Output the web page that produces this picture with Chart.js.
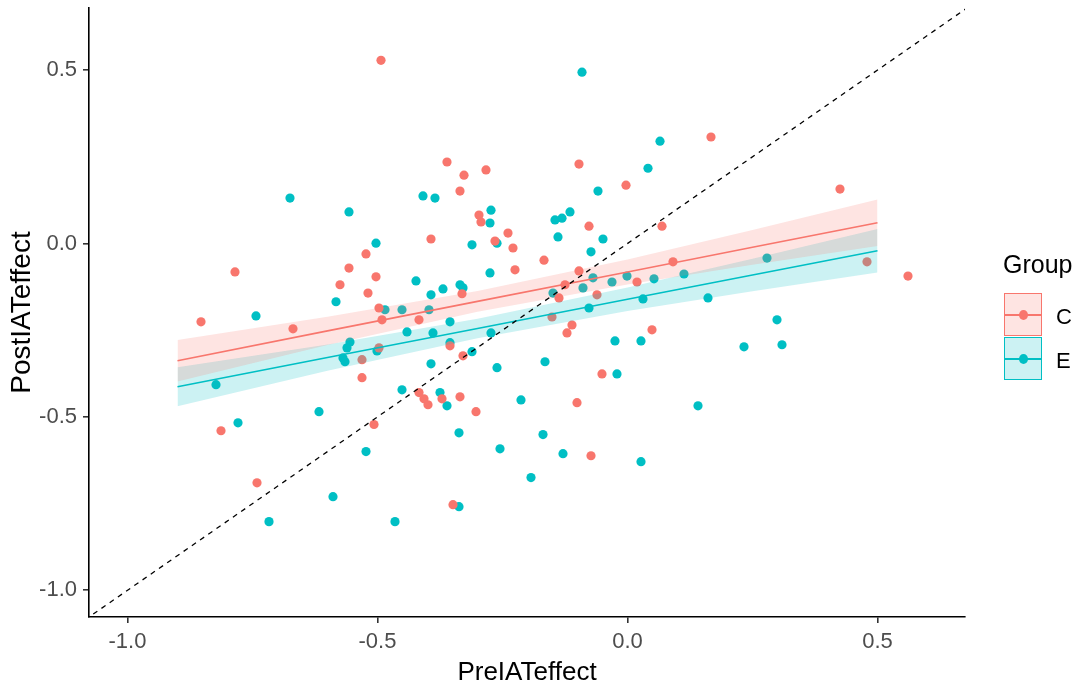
<!DOCTYPE html>
<html>
<head>
<meta charset="utf-8">
<title>PostIATeffect vs PreIATeffect</title>
<script src="https://cdn.jsdelivr.net/npm/chart.js@4.4.1/dist/chart.umd.min.js"></script>
<style>
body{margin:0;background:#fff;}
#wrap{position:relative;width:1074px;height:687px;font-family:"Liberation Sans",Arial,sans-serif;}
#chart{position:absolute;left:0;top:0;}
.lg{position:absolute;white-space:nowrap;line-height:1;}
.key{position:absolute;box-sizing:border-box;}
.key .ln{position:absolute;left:0;right:0;height:2px;}
.key .dot{position:absolute;width:9px;height:10px;border-radius:50%;}
</style>
</head>
<body>
<div id="wrap">
<canvas id="chart" width="1074" height="687"></canvas>
<div id="legend"></div>
</div>
<script>
// group C points
var cX = [-0.493,-0.361,-0.327,-0.283,-0.335,-0.097,-0.003,0.167,0.425,-0.297,
	-0.293,-0.239,-0.393,-0.265,-0.523,-0.557,-0.575,-0.503,-0.519,-0.331,
	-0.497,-0.491,-0.417,-0.355,-0.497,-0.329,-0.531,-0.531,-0.417,-0.407,
	-0.399,-0.371,-0.335,-0.303,-0.507,-0.349,-0.077,0.069,-0.229,-0.167,
	0.091,-0.225,-0.097,0.019,-0.125,-0.061,-0.137,-0.151,-0.111,-0.121,
	0.049,-0.051,-0.101,-0.073,-0.785,-0.853,-0.669,-0.813,-0.741,0.479,0.561];
var cY = [0.528,0.235,0.197,0.212,0.151,0.229,0.168,0.307,0.157,0.082,
	0.062,0.030,0.013,0.007,-0.030,-0.071,-0.119,-0.096,-0.143,-0.145,
	-0.186,-0.220,-0.220,-0.295,-0.301,-0.324,-0.335,-0.387,-0.430,-0.448,
	-0.465,-0.448,-0.442,-0.485,-0.522,-0.753,0.050,0.050,-0.013,-0.048,
	-0.053,-0.076,-0.079,-0.111,-0.119,-0.148,-0.157,-0.212,-0.235,-0.258,
	-0.249,-0.376,-0.459,-0.612,-0.082,-0.226,-0.246,-0.540,-0.690,-0.053,-0.094];

// group E points
var eX = [-0.091,0.065,0.041,-0.059,-0.675,-0.409,-0.385,-0.557,-0.273,-0.275,
	-0.503,-0.311,-0.261,-0.275,-0.423,-0.369,-0.335,-0.329,-0.393,-0.583,
	-0.485,-0.451,-0.397,-0.355,-0.441,-0.389,-0.555,-0.561,-0.569,-0.565,
	-0.501,-0.355,-0.273,-0.311,-0.393,-0.261,-0.451,-0.375,-0.361,-0.337,
	-0.255,-0.145,-0.131,-0.115,-0.139,-0.049,-0.073,-0.069,-0.031,-0.001,
	0.053,-0.089,-0.149,0.031,-0.077,-0.025,0.027,-0.165,-0.021,-0.213,
	-0.169,-0.129,0.027,-0.193,-0.743,-0.823,-0.617,-0.779,-0.717,-0.589,
	-0.523,-0.465,-0.337,0.113,0.279,0.161,0.299,0.233,0.309,0.141];
var eY = [0.494,0.295,0.217,0.151,0.131,0.137,0.131,0.091,0.096,0.059,
	0.001,-0.004,0.001,-0.085,-0.108,-0.131,-0.119,-0.128,-0.148,-0.168,
	-0.191,-0.191,-0.191,-0.226,-0.255,-0.258,-0.284,-0.301,-0.330,-0.341,
	-0.310,-0.286,-0.258,-0.312,-0.347,-0.358,-0.422,-0.430,-0.468,-0.546,
	-0.592,0.068,0.073,0.091,0.019,0.013,-0.024,-0.099,-0.111,-0.094,
	-0.102,-0.128,-0.143,-0.160,-0.186,-0.281,-0.281,-0.341,-0.376,-0.451,
	-0.551,-0.606,-0.629,-0.675,-0.209,-0.407,-0.485,-0.517,-0.802,-0.730,
	-0.600,-0.802,-0.759,-0.088,-0.042,-0.157,-0.220,-0.298,-0.292,-0.468];

// lm fits with confidence band
var fitX = [-0.9,-0.6,-0.3,0,0.25,0.5];
var fitC = [-0.338,-0.252,-0.167,-0.082,-0.011,0.060];
var loC  = [-0.398,-0.293,-0.197,-0.118,-0.061,-0.007];
var hiC  = [-0.278,-0.211,-0.137,-0.046,0.039,0.127];
var fitE = [-0.413,-0.329,-0.245,-0.161,-0.091,-0.021];
var loE  = [-0.469,-0.367,-0.273,-0.195,-0.138,-0.084];
var hiE  = [-0.357,-0.291,-0.217,-0.127,-0.044,0.042];

var xTicks = [-1.0,-0.5,0.0,0.5];
var yTicks = [-1.0,-0.5,0.0,0.5];
var xMin = -1.077, xMax = 0.675, yMin = -1.077, yMax = 0.679;
// y = x reference line
var diag = [-1.2, 0.8];

var groups = ['C','E'];
var colC = '#F8766D', colE = '#00BFC4';
var fillC = 'rgba(248,118,109,0.2)', fillE = 'rgba(0,191,196,0.2)';
var fam = '"Liberation Sans", Arial, sans-serif';

function pts(xs, ys) {
	var out = [];
	for (var i = 0; i < xs.length; i++) out.push({x: xs[i], y: ys[i]});
	return out;
}

function band(ys, fill, target) {
	return {type: 'line', data: pts(fitX, ys), borderWidth: 0, pointRadius: 0,
		backgroundColor: fill, fill: target, tension: 0, order: 2};
}

var chart = new Chart(document.getElementById('chart'), {
	type: 'scatter',
	data: {
		datasets: [
			{type: 'line', data: pts(diag, diag), borderColor: '#000', borderWidth: 1.3,
				borderDash: [5, 5], pointRadius: 0, fill: false, order: 0},
			{type: 'line', data: pts(fitX, fitC), borderColor: colC, borderWidth: 1.6,
				pointRadius: 0, fill: false, order: 1},
			{type: 'line', data: pts(fitX, fitE), borderColor: colE, borderWidth: 1.6,
				pointRadius: 0, fill: false, order: 1},
			band(hiC, fillC, '+1'),
			band(loC, fillC, false),
			band(hiE, fillE, '+1'),
			band(loE, fillE, false),
			{data: pts(cX, cY), backgroundColor: colC, pointRadius: 4.6, borderWidth: 0, order: 3},
			{data: pts(eX, eY), backgroundColor: colE, pointRadius: 4.6, borderWidth: 0, order: 3}
		]
	},
	options: {
		responsive: false,
		devicePixelRatio: 1,
		animation: false,
		layout: {padding: {left: 0, right: 109, top: 8, bottom: 0}},
		plugins: {legend: {display: false}, tooltip: {enabled: false}},
		scales: {
			x: {
				type: 'linear', min: xMin, max: xMax,
				afterBuildTicks: function(s) { s.ticks = xTicks.map(function(v) { return {value: v}; }); },
				afterFit: function(s) { s.height = 70; s.paddingLeft = 0; s.paddingRight = 0; },
				border: {display: true, color: '#000', width: 1.6},
				grid: {drawOnChartArea: false, drawTicks: true, tickLength: 6, color: '#333', lineWidth: 1.6},
				ticks: {color: '#4D4D4D', font: {family: fam, size: 22}, padding: 6, maxRotation: 0, autoSkip: false,
					callback: function(v) { return v.toFixed(1); }},
				title: {display: true, text: 'PreIATeffect', color: '#000',
					font: {family: fam, size: 26, lineHeight: 1}, padding: {top: 0, bottom: 1}}
			},
			y: {
				type: 'linear', min: yMin, max: yMax,
				afterBuildTicks: function(s) { s.ticks = yTicks.map(function(v) { return {value: v}; }); },
				afterFit: function(s) { s.width = 89; s.paddingTop = 0; s.paddingBottom = 0; },
				border: {display: true, color: '#000', width: 1.6},
				grid: {drawOnChartArea: false, drawTicks: true, tickLength: 6, color: '#333', lineWidth: 1.6},
				ticks: {color: '#4D4D4D', font: {family: fam, size: 22}, padding: 6, autoSkip: false,
					callback: function(v) { return v.toFixed(1); }},
				title: {display: true, text: 'PostIATeffect', color: '#000',
					font: {family: fam, size: 28, lineHeight: 1}, padding: {top: 8, bottom: 0}}
			}
		}
	}
});

// legend, ggplot style keys
var lg = document.getElementById('legend');
var cols = [colC, colE], fills = [fillC, fillE];
var html = "<div class='lg' style='left:1003px;top:252px;font-size:25px;'>Group</div>";
for (var i = 0; i < groups.length; i++) {
	var keyTop = 293 + i * 44;
	html += "<div class='key' style='left:1004px;top:" + keyTop + "px;width:38px;height:43px;border:1px solid " + cols[i] + ";background:" + fills[i] + ";'>" +
		"<div class='ln' style='top:20px;background:" + cols[i] + ";'></div>" +
		"<div class='dot' style='left:13.5px;top:16px;background:" + cols[i] + ";'></div></div>" +
		"<div class='lg' style='left:1056px;top:" + (keyTop + 13) + "px;font-size:22px;'>" + groups[i] + "</div>";
}
lg.innerHTML = html;
</script>
</body>
</html>
